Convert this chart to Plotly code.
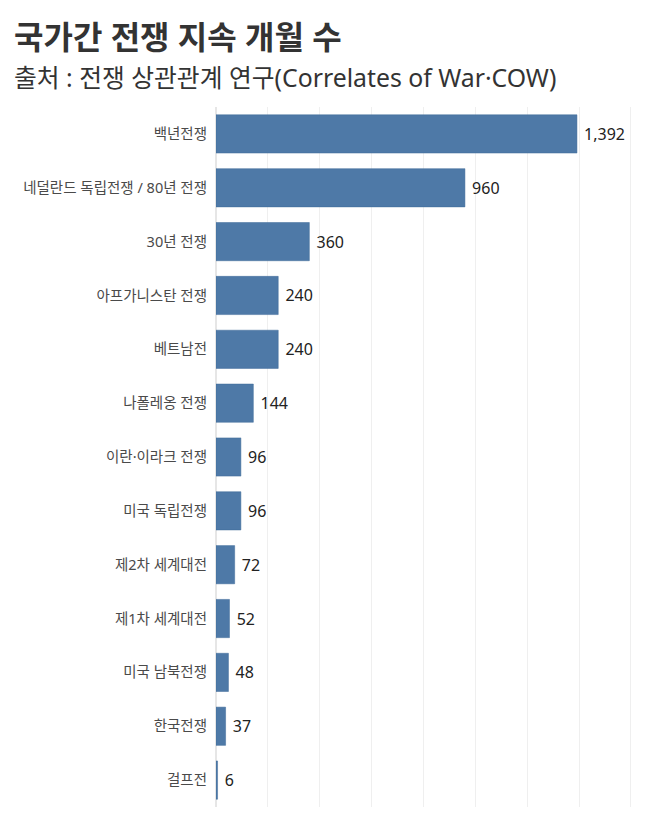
import plotly.graph_objects as go

categories = ["백년전쟁", "네덜란드 독립전쟁 / 80년 전쟁", "30년 전쟁", "아프가니스탄 전쟁",
              "베트남전", "나폴레옹 전쟁", "이란·이라크 전쟁", "미국 독립전쟁",
              "제2차 세계대전", "제1차 세계대전", "미국 남북전쟁", "한국전쟁", "걸프전"]
months = [1392, 960, 360, 240, 240, 144, 96, 96, 72, 52, 48, 37, 6]
value_labels = [f" {v:,}" for v in months]

FONT = "Noto Sans, Noto Sans CJK KR"

# page has an 8px body margin; figure sized to fit the window
W, H = 650, 809
ML, MR, MT, MB = 208, 10, 99, 10

fig = go.Figure(go.Bar(
    x=months, y=categories, orientation="h",
    marker=dict(color="#4e79a7", line=dict(color="#3f6a98", width=0.5)),
    text=value_labels, textposition="outside",
    textfont=dict(family=FONT, size=16, color="#222"),
    cliponaxis=False,
))

plot_w = W - ML - MR
plot_h = H - MT - MB

def px(x):
    return (x - ML) / plot_w

def py(y):
    return (H - MB - y) / plot_h

fig.update_layout(
    width=W, height=H,
    margin=dict(l=ML, r=MR, t=MT, b=MB),
    paper_bgcolor="white", plot_bgcolor="white",
    bargap=0.29,
    showlegend=False,
    font=dict(family=FONT),
    xaxis=dict(range=[0, 1666], dtick=200, showticklabels=False, showgrid=True,
               gridcolor="#efefef", gridwidth=1, zeroline=True, zerolinecolor="#e6e6e6",
               showline=False, fixedrange=True),
    yaxis=dict(autorange="reversed", tickfont=dict(family=FONT, size=14.5, color="#4a4a4a"),
               ticks="", ticklabelstandoff=8, showgrid=False, showline=False, fixedrange=True),
    annotations=[
        dict(text="<b>국가간 전쟁 지속 개월 수</b>", x=px(4), y=py(29), xref="paper", yref="paper",
             xanchor="left", yanchor="middle", showarrow=False,
             font=dict(family=FONT, size=32, color="#333")),
        dict(text="출처 : 전쟁 상관관계 연구(Correlates of War·COW)", x=px(4), y=py(69),
             xref="paper", yref="paper", xanchor="left", yanchor="middle", showarrow=False,
             font=dict(family=FONT, size=24.8, color="#333")),
    ],
)

fig.write_html("out.html")
